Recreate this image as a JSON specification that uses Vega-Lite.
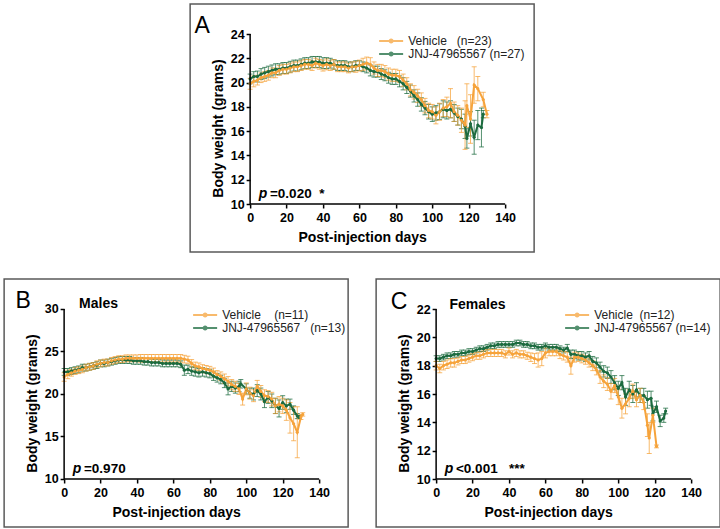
{
"$schema": "https://vega.github.io/schema/vega-lite/v6.json",
"padding": {"left": 3, "top": 3, "right": 0, "bottom": 0},
"background": "white",
"spacing": 25,
"center": true,
"resolve": {"scale": {"color": "independent"}},
"config": {
  "font": "Liberation Sans",
  "view": {"stroke": "#5a5a5a", "strokeWidth": 1.5},
  "axis": {"grid": false, "domain": false, "tickColor": "#000", "tickWidth": 1.5, "tickSize": 4, "labelFont": "Liberation Sans", "labelFontWeight": "bold", "labelFontSize": 12.5, "labelColor": "#000", "titleFont": "Liberation Sans", "titleFontWeight": "bold", "titleFontSize": 14, "titleColor": "#000", "labelFlush": false, "labelOverlap": false},
  "legend": {"symbolType": "M-2.4,0L2.4,0M-0.3,0A0.3,0.3,0,1,0,0.3,0A0.3,0.3,0,1,0,-0.3,0Z", "symbolSize": 100, "symbolStrokeWidth": 2, "labelFontSize": 12, "labelFont": "Liberation Sans", "labelColor": "#222", "rowPadding": 1, "labelOffset": 11, "padding": 0},
  "text": {"font": "Liberation Sans", "color": "#000"}
},
"datasets": {
"A": [
{"d":0,"g":"JNJ-47965567","w":20.3,"e":0.4},{"d":2,"g":"JNJ-47965567","w":20.5,"e":0.4},{"d":4,"g":"JNJ-47965567","w":20.5,"e":0.45},{"d":6,"g":"JNJ-47965567","w":20.7,"e":0.45},{"d":8,"g":"JNJ-47965567","w":20.8,"e":0.45},{"d":10,"g":"JNJ-47965567","w":20.9,"e":0.45},{"d":12,"g":"JNJ-47965567","w":21.0,"e":0.45},{"d":14,"g":"JNJ-47965567","w":21.1,"e":0.45},{"d":16,"g":"JNJ-47965567","w":21.1,"e":0.45},{"d":18,"g":"JNJ-47965567","w":21.2,"e":0.45},{"d":20,"g":"JNJ-47965567","w":21.2,"e":0.45},{"d":22,"g":"JNJ-47965567","w":21.3,"e":0.45},{"d":24,"g":"JNJ-47965567","w":21.4,"e":0.45},{"d":26,"g":"JNJ-47965567","w":21.4,"e":0.45},{"d":28,"g":"JNJ-47965567","w":21.5,"e":0.45},{"d":30,"g":"JNJ-47965567","w":21.6,"e":0.45},{"d":32,"g":"JNJ-47965567","w":21.6,"e":0.45},{"d":34,"g":"JNJ-47965567","w":21.7,"e":0.45},{"d":36,"g":"JNJ-47965567","w":21.7,"e":0.45},{"d":38,"g":"JNJ-47965567","w":21.7,"e":0.45},{"d":40,"g":"JNJ-47965567","w":21.6,"e":0.45},{"d":42,"g":"JNJ-47965567","w":21.6,"e":0.45},{"d":44,"g":"JNJ-47965567","w":21.6,"e":0.4},{"d":46,"g":"JNJ-47965567","w":21.5,"e":0.4},{"d":48,"g":"JNJ-47965567","w":21.4,"e":0.4},{"d":50,"g":"JNJ-47965567","w":21.4,"e":0.4},{"d":52,"g":"JNJ-47965567","w":21.4,"e":0.4},{"d":54,"g":"JNJ-47965567","w":21.3,"e":0.4},{"d":56,"g":"JNJ-47965567","w":21.3,"e":0.4},{"d":58,"g":"JNJ-47965567","w":21.4,"e":0.4},{"d":60,"g":"JNJ-47965567","w":21.4,"e":0.4},{"d":62,"g":"JNJ-47965567","w":21.3,"e":0.4},{"d":64,"g":"JNJ-47965567","w":21.2,"e":0.4},{"d":66,"g":"JNJ-47965567","w":21.0,"e":0.45},{"d":68,"g":"JNJ-47965567","w":20.9,"e":0.45},{"d":70,"g":"JNJ-47965567","w":20.9,"e":0.45},{"d":72,"g":"JNJ-47965567","w":20.7,"e":0.45},{"d":74,"g":"JNJ-47965567","w":20.6,"e":0.45},{"d":76,"g":"JNJ-47965567","w":20.4,"e":0.45},{"d":78,"g":"JNJ-47965567","w":20.3,"e":0.45},{"d":80,"g":"JNJ-47965567","w":20.3,"e":0.45},{"d":82,"g":"JNJ-47965567","w":20.1,"e":0.45},{"d":84,"g":"JNJ-47965567","w":19.9,"e":0.5},{"d":86,"g":"JNJ-47965567","w":19.6,"e":0.5},{"d":88,"g":"JNJ-47965567","w":19.3,"e":0.5},{"d":90,"g":"JNJ-47965567","w":18.9,"e":0.5},{"d":92,"g":"JNJ-47965567","w":18.6,"e":0.55},{"d":94,"g":"JNJ-47965567","w":18.2,"e":0.55},{"d":96,"g":"JNJ-47965567","w":17.9,"e":0.55},{"d":98,"g":"JNJ-47965567","w":17.6,"e":0.6},{"d":100,"g":"JNJ-47965567","w":17.4,"e":0.6},{"d":102,"g":"JNJ-47965567","w":17.5,"e":0.6},{"d":104,"g":"JNJ-47965567","w":17.6,"e":0.65},{"d":106,"g":"JNJ-47965567","w":17.8,"e":0.7},{"d":108,"g":"JNJ-47965567","w":17.7,"e":0.7},{"d":110,"g":"JNJ-47965567","w":17.8,"e":0.7},{"d":112,"g":"JNJ-47965567","w":17.5,"e":0.7},{"d":114,"g":"JNJ-47965567","w":17.2,"e":0.7},{"d":116,"g":"JNJ-47965567","w":17.0,"e":0.8},{"d":118,"g":"JNJ-47965567","w":16.4,"e":1.0},{"d":119,"g":"JNJ-47965567","w":15.4,"e":0.8},{"d":121,"g":"JNJ-47965567","w":16.6,"e":1.0},{"d":123,"g":"JNJ-47965567","w":15.5,"e":1.4},{"d":125,"g":"JNJ-47965567","w":16.5,"e":1.2},{"d":127,"g":"JNJ-47965567","w":16.3,"e":1.6},{"d":128,"g":"JNJ-47965567","w":17.4,"e":0.3},
{"d":0,"g":"Vehicle","w":19.9,"e":0.45},{"d":2,"g":"Vehicle","w":20.1,"e":0.45},{"d":4,"g":"Vehicle","w":20.2,"e":0.4},{"d":6,"g":"Vehicle","w":20.4,"e":0.4},{"d":8,"g":"Vehicle","w":20.5,"e":0.4},{"d":10,"g":"Vehicle","w":20.6,"e":0.4},{"d":12,"g":"Vehicle","w":20.8,"e":0.4},{"d":14,"g":"Vehicle","w":20.8,"e":0.4},{"d":16,"g":"Vehicle","w":21.0,"e":0.4},{"d":18,"g":"Vehicle","w":21.1,"e":0.4},{"d":20,"g":"Vehicle","w":21.1,"e":0.4},{"d":22,"g":"Vehicle","w":21.2,"e":0.4},{"d":24,"g":"Vehicle","w":21.3,"e":0.4},{"d":26,"g":"Vehicle","w":21.3,"e":0.4},{"d":28,"g":"Vehicle","w":21.4,"e":0.4},{"d":30,"g":"Vehicle","w":21.5,"e":0.4},{"d":32,"g":"Vehicle","w":21.5,"e":0.4},{"d":34,"g":"Vehicle","w":21.4,"e":0.4},{"d":36,"g":"Vehicle","w":21.6,"e":0.4},{"d":38,"g":"Vehicle","w":21.5,"e":0.4},{"d":40,"g":"Vehicle","w":21.4,"e":0.45},{"d":42,"g":"Vehicle","w":21.5,"e":0.45},{"d":44,"g":"Vehicle","w":21.4,"e":0.4},{"d":46,"g":"Vehicle","w":21.5,"e":0.4},{"d":48,"g":"Vehicle","w":21.3,"e":0.4},{"d":50,"g":"Vehicle","w":21.3,"e":0.4},{"d":52,"g":"Vehicle","w":21.3,"e":0.4},{"d":54,"g":"Vehicle","w":21.2,"e":0.4},{"d":56,"g":"Vehicle","w":21.3,"e":0.4},{"d":58,"g":"Vehicle","w":21.3,"e":0.45},{"d":60,"g":"Vehicle","w":21.4,"e":0.45},{"d":62,"g":"Vehicle","w":21.5,"e":0.5},{"d":64,"g":"Vehicle","w":21.6,"e":0.5},{"d":66,"g":"Vehicle","w":21.5,"e":0.55},{"d":68,"g":"Vehicle","w":21.2,"e":0.5},{"d":70,"g":"Vehicle","w":21.0,"e":0.5},{"d":72,"g":"Vehicle","w":21.0,"e":0.5},{"d":74,"g":"Vehicle","w":20.9,"e":0.5},{"d":76,"g":"Vehicle","w":20.7,"e":0.5},{"d":78,"g":"Vehicle","w":20.6,"e":0.5},{"d":80,"g":"Vehicle","w":20.6,"e":0.5},{"d":82,"g":"Vehicle","w":20.5,"e":0.5},{"d":84,"g":"Vehicle","w":20.2,"e":0.5},{"d":86,"g":"Vehicle","w":19.9,"e":0.5},{"d":88,"g":"Vehicle","w":19.4,"e":0.5},{"d":90,"g":"Vehicle","w":19.2,"e":0.55},{"d":92,"g":"Vehicle","w":18.9,"e":0.55},{"d":94,"g":"Vehicle","w":18.6,"e":0.55},{"d":96,"g":"Vehicle","w":18.1,"e":0.6},{"d":98,"g":"Vehicle","w":17.7,"e":0.6},{"d":100,"g":"Vehicle","w":17.6,"e":0.6},{"d":102,"g":"Vehicle","w":17.3,"e":0.7},{"d":104,"g":"Vehicle","w":17.6,"e":0.7},{"d":106,"g":"Vehicle","w":17.9,"e":0.7},{"d":108,"g":"Vehicle","w":18.0,"e":0.8},{"d":110,"g":"Vehicle","w":18.3,"e":1.2},{"d":112,"g":"Vehicle","w":17.6,"e":0.8},{"d":114,"g":"Vehicle","w":17.3,"e":0.8},{"d":116,"g":"Vehicle","w":16.9,"e":1.0},{"d":118,"g":"Vehicle","w":16.5,"e":2.0},{"d":119,"g":"Vehicle","w":18.1,"e":1.8},{"d":121,"g":"Vehicle","w":17.0,"e":2.0},{"d":123,"g":"Vehicle","w":19.8,"e":1.5},{"d":125,"g":"Vehicle","w":19.5,"e":1.0},{"d":128,"g":"Vehicle","w":18.6,"e":0.6},{"d":130,"g":"Vehicle","w":17.4,"e":0.3}
],
"B": [
{"d":0,"g":"JNJ-47965567","w":22.6,"e":0.4},{"d":2,"g":"JNJ-47965567","w":22.6,"e":0.4},{"d":4,"g":"JNJ-47965567","w":22.7,"e":0.4},{"d":6,"g":"JNJ-47965567","w":22.8,"e":0.4},{"d":8,"g":"JNJ-47965567","w":22.9,"e":0.4},{"d":10,"g":"JNJ-47965567","w":23.1,"e":0.4},{"d":12,"g":"JNJ-47965567","w":23.1,"e":0.4},{"d":14,"g":"JNJ-47965567","w":23.2,"e":0.4},{"d":16,"g":"JNJ-47965567","w":23.3,"e":0.4},{"d":18,"g":"JNJ-47965567","w":23.4,"e":0.4},{"d":20,"g":"JNJ-47965567","w":23.6,"e":0.4},{"d":22,"g":"JNJ-47965567","w":23.6,"e":0.4},{"d":24,"g":"JNJ-47965567","w":23.7,"e":0.4},{"d":26,"g":"JNJ-47965567","w":23.8,"e":0.4},{"d":28,"g":"JNJ-47965567","w":23.9,"e":0.4},{"d":30,"g":"JNJ-47965567","w":24.0,"e":0.4},{"d":32,"g":"JNJ-47965567","w":24.0,"e":0.4},{"d":34,"g":"JNJ-47965567","w":24.0,"e":0.4},{"d":36,"g":"JNJ-47965567","w":24.0,"e":0.4},{"d":38,"g":"JNJ-47965567","w":23.9,"e":0.4},{"d":40,"g":"JNJ-47965567","w":23.9,"e":0.4},{"d":42,"g":"JNJ-47965567","w":23.9,"e":0.4},{"d":44,"g":"JNJ-47965567","w":23.8,"e":0.4},{"d":46,"g":"JNJ-47965567","w":23.8,"e":0.4},{"d":48,"g":"JNJ-47965567","w":23.7,"e":0.4},{"d":50,"g":"JNJ-47965567","w":23.7,"e":0.4},{"d":52,"g":"JNJ-47965567","w":23.7,"e":0.4},{"d":54,"g":"JNJ-47965567","w":23.6,"e":0.4},{"d":56,"g":"JNJ-47965567","w":23.6,"e":0.4},{"d":58,"g":"JNJ-47965567","w":23.6,"e":0.4},{"d":60,"g":"JNJ-47965567","w":23.6,"e":0.4},{"d":62,"g":"JNJ-47965567","w":23.6,"e":0.4},{"d":64,"g":"JNJ-47965567","w":23.5,"e":0.4},{"d":66,"g":"JNJ-47965567","w":22.8,"e":0.6},{"d":68,"g":"JNJ-47965567","w":22.9,"e":0.5},{"d":70,"g":"JNJ-47965567","w":22.7,"e":0.5},{"d":72,"g":"JNJ-47965567","w":22.6,"e":0.5},{"d":74,"g":"JNJ-47965567","w":22.5,"e":0.5},{"d":76,"g":"JNJ-47965567","w":22.6,"e":0.5},{"d":78,"g":"JNJ-47965567","w":22.5,"e":0.5},{"d":80,"g":"JNJ-47965567","w":22.4,"e":0.5},{"d":82,"g":"JNJ-47965567","w":22.1,"e":0.5},{"d":84,"g":"JNJ-47965567","w":21.9,"e":0.5},{"d":86,"g":"JNJ-47965567","w":21.7,"e":0.5},{"d":88,"g":"JNJ-47965567","w":21.3,"e":0.55},{"d":90,"g":"JNJ-47965567","w":20.6,"e":0.7},{"d":92,"g":"JNJ-47965567","w":20.9,"e":0.6},{"d":94,"g":"JNJ-47965567","w":20.7,"e":0.6},{"d":96,"g":"JNJ-47965567","w":20.9,"e":0.6},{"d":97,"g":"JNJ-47965567","w":21.2,"e":0.5},{"d":100,"g":"JNJ-47965567","w":20.6,"e":0.6},{"d":102,"g":"JNJ-47965567","w":20.1,"e":0.6},{"d":104,"g":"JNJ-47965567","w":20.0,"e":0.7},{"d":106,"g":"JNJ-47965567","w":20.4,"e":0.7},{"d":108,"g":"JNJ-47965567","w":20.0,"e":0.7},{"d":110,"g":"JNJ-47965567","w":19.1,"e":0.7},{"d":112,"g":"JNJ-47965567","w":19.6,"e":0.7},{"d":114,"g":"JNJ-47965567","w":19.2,"e":0.8},{"d":116,"g":"JNJ-47965567","w":18.6,"e":0.9},{"d":118,"g":"JNJ-47965567","w":18.3,"e":1.0},{"d":120,"g":"JNJ-47965567","w":19.0,"e":0.8},{"d":122,"g":"JNJ-47965567","w":18.6,"e":0.8},{"d":124,"g":"JNJ-47965567","w":18.8,"e":0.6},{"d":126,"g":"JNJ-47965567","w":18.1,"e":0.5},{"d":128,"g":"JNJ-47965567","w":17.4,"e":0.3},{"d":129,"g":"JNJ-47965567","w":17.3,"e":0.2},
{"d":0,"g":"Vehicle","w":22.0,"e":0.5},{"d":2,"g":"Vehicle","w":22.3,"e":0.5},{"d":4,"g":"Vehicle","w":22.5,"e":0.4},{"d":6,"g":"Vehicle","w":22.7,"e":0.4},{"d":8,"g":"Vehicle","w":22.8,"e":0.4},{"d":10,"g":"Vehicle","w":22.9,"e":0.4},{"d":12,"g":"Vehicle","w":23.1,"e":0.4},{"d":14,"g":"Vehicle","w":23.2,"e":0.4},{"d":16,"g":"Vehicle","w":23.3,"e":0.4},{"d":18,"g":"Vehicle","w":23.5,"e":0.4},{"d":20,"g":"Vehicle","w":23.6,"e":0.4},{"d":22,"g":"Vehicle","w":23.7,"e":0.4},{"d":24,"g":"Vehicle","w":23.7,"e":0.4},{"d":26,"g":"Vehicle","w":23.9,"e":0.4},{"d":28,"g":"Vehicle","w":24.0,"e":0.4},{"d":30,"g":"Vehicle","w":24.1,"e":0.4},{"d":32,"g":"Vehicle","w":24.1,"e":0.4},{"d":34,"g":"Vehicle","w":24.2,"e":0.4},{"d":36,"g":"Vehicle","w":24.2,"e":0.4},{"d":38,"g":"Vehicle","w":24.2,"e":0.4},{"d":40,"g":"Vehicle","w":24.2,"e":0.4},{"d":42,"g":"Vehicle","w":24.2,"e":0.45},{"d":44,"g":"Vehicle","w":24.2,"e":0.45},{"d":46,"g":"Vehicle","w":24.2,"e":0.45},{"d":48,"g":"Vehicle","w":24.2,"e":0.45},{"d":50,"g":"Vehicle","w":24.2,"e":0.45},{"d":52,"g":"Vehicle","w":24.2,"e":0.45},{"d":54,"g":"Vehicle","w":24.2,"e":0.45},{"d":56,"g":"Vehicle","w":24.2,"e":0.45},{"d":58,"g":"Vehicle","w":24.2,"e":0.45},{"d":60,"g":"Vehicle","w":24.2,"e":0.45},{"d":62,"g":"Vehicle","w":24.2,"e":0.45},{"d":64,"g":"Vehicle","w":24.2,"e":0.45},{"d":66,"g":"Vehicle","w":24.1,"e":0.45},{"d":68,"g":"Vehicle","w":24.0,"e":0.45},{"d":70,"g":"Vehicle","w":23.6,"e":0.45},{"d":72,"g":"Vehicle","w":23.3,"e":0.45},{"d":74,"g":"Vehicle","w":23.2,"e":0.45},{"d":76,"g":"Vehicle","w":23.0,"e":0.45},{"d":78,"g":"Vehicle","w":22.9,"e":0.45},{"d":80,"g":"Vehicle","w":22.8,"e":0.45},{"d":82,"g":"Vehicle","w":22.6,"e":0.45},{"d":84,"g":"Vehicle","w":22.3,"e":0.45},{"d":86,"g":"Vehicle","w":22.1,"e":0.5},{"d":88,"g":"Vehicle","w":21.8,"e":0.55},{"d":90,"g":"Vehicle","w":21.5,"e":0.55},{"d":92,"g":"Vehicle","w":21.1,"e":0.6},{"d":94,"g":"Vehicle","w":20.9,"e":0.6},{"d":96,"g":"Vehicle","w":20.6,"e":0.65},{"d":98,"g":"Vehicle","w":19.4,"e":0.7},{"d":100,"g":"Vehicle","w":20.6,"e":0.7},{"d":102,"g":"Vehicle","w":20.1,"e":0.7},{"d":104,"g":"Vehicle","w":19.8,"e":0.7},{"d":106,"g":"Vehicle","w":20.9,"e":0.7},{"d":108,"g":"Vehicle","w":20.3,"e":0.7},{"d":110,"g":"Vehicle","w":19.8,"e":0.7},{"d":112,"g":"Vehicle","w":19.7,"e":0.7},{"d":114,"g":"Vehicle","w":19.4,"e":0.8},{"d":116,"g":"Vehicle","w":18.6,"e":0.9},{"d":118,"g":"Vehicle","w":18.8,"e":0.9},{"d":120,"g":"Vehicle","w":18.6,"e":0.9},{"d":122,"g":"Vehicle","w":18.1,"e":1.2},{"d":124,"g":"Vehicle","w":17.2,"e":1.8},{"d":126,"g":"Vehicle","w":16.5,"e":2.0},{"d":128,"g":"Vehicle","w":15.5,"e":3.0},{"d":130,"g":"Vehicle","w":17.3,"e":0.3},{"d":131,"g":"Vehicle","w":17.6,"e":0.2}
],
"C": [
{"d":0,"g":"JNJ-47965567","w":18.5,"e":0.2},{"d":2,"g":"JNJ-47965567","w":18.5,"e":0.2},{"d":4,"g":"JNJ-47965567","w":18.6,"e":0.2},{"d":6,"g":"JNJ-47965567","w":18.7,"e":0.2},{"d":8,"g":"JNJ-47965567","w":18.7,"e":0.2},{"d":10,"g":"JNJ-47965567","w":18.8,"e":0.2},{"d":12,"g":"JNJ-47965567","w":18.8,"e":0.2},{"d":14,"g":"JNJ-47965567","w":18.9,"e":0.2},{"d":16,"g":"JNJ-47965567","w":18.9,"e":0.2},{"d":18,"g":"JNJ-47965567","w":19.0,"e":0.2},{"d":20,"g":"JNJ-47965567","w":19.0,"e":0.2},{"d":22,"g":"JNJ-47965567","w":19.1,"e":0.2},{"d":24,"g":"JNJ-47965567","w":19.2,"e":0.2},{"d":26,"g":"JNJ-47965567","w":19.2,"e":0.2},{"d":28,"g":"JNJ-47965567","w":19.3,"e":0.2},{"d":30,"g":"JNJ-47965567","w":19.4,"e":0.2},{"d":32,"g":"JNJ-47965567","w":19.4,"e":0.2},{"d":34,"g":"JNJ-47965567","w":19.5,"e":0.2},{"d":36,"g":"JNJ-47965567","w":19.5,"e":0.2},{"d":38,"g":"JNJ-47965567","w":19.5,"e":0.2},{"d":40,"g":"JNJ-47965567","w":19.5,"e":0.2},{"d":42,"g":"JNJ-47965567","w":19.5,"e":0.2},{"d":44,"g":"JNJ-47965567","w":19.6,"e":0.2},{"d":46,"g":"JNJ-47965567","w":19.6,"e":0.2},{"d":48,"g":"JNJ-47965567","w":19.5,"e":0.2},{"d":50,"g":"JNJ-47965567","w":19.5,"e":0.2},{"d":52,"g":"JNJ-47965567","w":19.4,"e":0.2},{"d":54,"g":"JNJ-47965567","w":19.4,"e":0.2},{"d":56,"g":"JNJ-47965567","w":19.3,"e":0.2},{"d":58,"g":"JNJ-47965567","w":19.3,"e":0.2},{"d":60,"g":"JNJ-47965567","w":19.4,"e":0.2},{"d":62,"g":"JNJ-47965567","w":19.3,"e":0.2},{"d":64,"g":"JNJ-47965567","w":19.3,"e":0.2},{"d":66,"g":"JNJ-47965567","w":19.3,"e":0.2},{"d":68,"g":"JNJ-47965567","w":19.2,"e":0.2},{"d":70,"g":"JNJ-47965567","w":19.1,"e":0.2},{"d":72,"g":"JNJ-47965567","w":19.25,"e":0.25},{"d":74,"g":"JNJ-47965567","w":18.8,"e":0.3},{"d":76,"g":"JNJ-47965567","w":18.8,"e":0.3},{"d":78,"g":"JNJ-47965567","w":18.7,"e":0.3},{"d":80,"g":"JNJ-47965567","w":18.7,"e":0.3},{"d":82,"g":"JNJ-47965567","w":18.6,"e":0.3},{"d":84,"g":"JNJ-47965567","w":18.7,"e":0.3},{"d":86,"g":"JNJ-47965567","w":18.3,"e":0.35},{"d":88,"g":"JNJ-47965567","w":18.2,"e":0.35},{"d":90,"g":"JNJ-47965567","w":17.9,"e":0.35},{"d":92,"g":"JNJ-47965567","w":17.6,"e":0.4},{"d":94,"g":"JNJ-47965567","w":17.5,"e":0.4},{"d":96,"g":"JNJ-47965567","w":17.2,"e":0.45},{"d":98,"g":"JNJ-47965567","w":16.8,"e":0.5},{"d":100,"g":"JNJ-47965567","w":16.4,"e":0.5},{"d":102,"g":"JNJ-47965567","w":16.8,"e":0.5},{"d":104,"g":"JNJ-47965567","w":15.8,"e":0.6},{"d":106,"g":"JNJ-47965567","w":16.3,"e":0.6},{"d":108,"g":"JNJ-47965567","w":16.0,"e":0.6},{"d":110,"g":"JNJ-47965567","w":16.3,"e":0.5},{"d":112,"g":"JNJ-47965567","w":15.9,"e":0.5},{"d":114,"g":"JNJ-47965567","w":15.9,"e":0.5},{"d":116,"g":"JNJ-47965567","w":15.6,"e":0.6},{"d":118,"g":"JNJ-47965567","w":15.7,"e":0.5},{"d":119,"g":"JNJ-47965567","w":14.6,"e":0.5},{"d":121,"g":"JNJ-47965567","w":15.1,"e":0.4},{"d":123,"g":"JNJ-47965567","w":14.1,"e":0.4},{"d":125,"g":"JNJ-47965567","w":14.3,"e":0.3},{"d":126,"g":"JNJ-47965567","w":14.8,"e":0.2},
{"d":0,"g":"Vehicle","w":18.0,"e":0.3},{"d":2,"g":"Vehicle","w":17.8,"e":0.3},{"d":4,"g":"Vehicle","w":18.0,"e":0.3},{"d":6,"g":"Vehicle","w":18.1,"e":0.3},{"d":8,"g":"Vehicle","w":18.2,"e":0.3},{"d":10,"g":"Vehicle","w":18.2,"e":0.3},{"d":12,"g":"Vehicle","w":18.3,"e":0.25},{"d":14,"g":"Vehicle","w":18.4,"e":0.25},{"d":16,"g":"Vehicle","w":18.4,"e":0.25},{"d":18,"g":"Vehicle","w":18.5,"e":0.25},{"d":20,"g":"Vehicle","w":18.6,"e":0.25},{"d":22,"g":"Vehicle","w":18.7,"e":0.25},{"d":24,"g":"Vehicle","w":18.7,"e":0.25},{"d":26,"g":"Vehicle","w":18.8,"e":0.25},{"d":28,"g":"Vehicle","w":18.9,"e":0.25},{"d":30,"g":"Vehicle","w":18.9,"e":0.25},{"d":32,"g":"Vehicle","w":18.9,"e":0.25},{"d":34,"g":"Vehicle","w":18.9,"e":0.25},{"d":36,"g":"Vehicle","w":18.9,"e":0.25},{"d":38,"g":"Vehicle","w":18.8,"e":0.25},{"d":40,"g":"Vehicle","w":19.0,"e":0.25},{"d":42,"g":"Vehicle","w":18.8,"e":0.25},{"d":44,"g":"Vehicle","w":18.9,"e":0.25},{"d":46,"g":"Vehicle","w":18.8,"e":0.25},{"d":48,"g":"Vehicle","w":18.8,"e":0.25},{"d":50,"g":"Vehicle","w":18.7,"e":0.25},{"d":52,"g":"Vehicle","w":18.6,"e":0.3},{"d":54,"g":"Vehicle","w":18.5,"e":0.35},{"d":56,"g":"Vehicle","w":18.4,"e":0.5},{"d":58,"g":"Vehicle","w":18.5,"e":0.5},{"d":60,"g":"Vehicle","w":18.9,"e":0.35},{"d":62,"g":"Vehicle","w":19.0,"e":0.3},{"d":64,"g":"Vehicle","w":19.0,"e":0.3},{"d":66,"g":"Vehicle","w":19.0,"e":0.3},{"d":68,"g":"Vehicle","w":18.8,"e":0.3},{"d":70,"g":"Vehicle","w":18.7,"e":0.3},{"d":72,"g":"Vehicle","w":18.6,"e":0.35},{"d":74,"g":"Vehicle","w":18.0,"e":0.6},{"d":76,"g":"Vehicle","w":18.6,"e":0.35},{"d":78,"g":"Vehicle","w":18.6,"e":0.3},{"d":80,"g":"Vehicle","w":18.5,"e":0.3},{"d":82,"g":"Vehicle","w":18.4,"e":0.3},{"d":84,"g":"Vehicle","w":18.2,"e":0.3},{"d":86,"g":"Vehicle","w":18.0,"e":0.35},{"d":88,"g":"Vehicle","w":17.7,"e":0.35},{"d":90,"g":"Vehicle","w":17.2,"e":0.45},{"d":92,"g":"Vehicle","w":16.9,"e":0.45},{"d":94,"g":"Vehicle","w":16.7,"e":0.45},{"d":96,"g":"Vehicle","w":16.2,"e":0.55},{"d":98,"g":"Vehicle","w":16.6,"e":0.5},{"d":100,"g":"Vehicle","w":15.8,"e":0.55},{"d":102,"g":"Vehicle","w":15.0,"e":0.7},{"d":104,"g":"Vehicle","w":15.3,"e":0.7},{"d":106,"g":"Vehicle","w":15.7,"e":0.6},{"d":108,"g":"Vehicle","w":16.2,"e":0.5},{"d":110,"g":"Vehicle","w":15.6,"e":0.5},{"d":112,"g":"Vehicle","w":15.9,"e":0.5},{"d":114,"g":"Vehicle","w":15.4,"e":0.5},{"d":116,"g":"Vehicle","w":13.8,"e":0.8},{"d":117,"g":"Vehicle","w":12.9,"e":1.1},{"d":119,"g":"Vehicle","w":14.5,"e":0.5},{"d":121,"g":"Vehicle","w":12.3,"e":0.1}
]
},
"vconcat": [
{
  "width": 344, "height": 248,
  "data": {"name": "A"},
  "layer": [
    {"mark": {"type": "errorbar", "ticks": true, "size": 5, "thickness": 1, "opacity": 0.75},
     "encoding": {
       "x": {"field": "d", "type": "quantitative", "scale": {"domain": [-32.94, 155.92], "nice": false, "zero": false}, "axis": {"title": "Post-injection days", "values": [0,20,40,60,80,100,120,140], "tickCount": 30, "format": "d", "offset": -48, "labelPadding": 3, "titlePadding": 7}},
       "y": {"field": "w", "type": "quantitative", "scale": {"domain": [6.047, 26.471], "nice": false, "zero": false}, "axis": {"title": "Body weight (grams)", "values": [10,12,14,16,18,20,22,24], "tickCount": 30, "format": "d", "offset": -60, "labelPadding": 2, "titlePadding": 5}},
       "yError": {"field": "e"},
       "color": {"field": "g", "type": "nominal", "scale": {"domain": ["Vehicle", "JNJ-47965567"], "range": ["#F6A33B", "#1C6B3F"]}, "legend": {"title": null, "orient": "none", "legendX": 195, "legendY": 31, "labelExpr": "datum.label == 'Vehicle' ? 'Vehicle\u00a0\u00a0\u00a0(n=23)' : 'JNJ-47965567 (n=27)'"}}
     }},
    {"mark": {"type": "line", "strokeWidth": 2, "point": {"filled": true, "size": 10}},
     "encoding": {"x": {"field": "d", "type": "quantitative"}, "y": {"field": "w", "type": "quantitative"}, "color": {"field": "g", "type": "nominal"}}},
    {"data": {"values": [{}]}, "mark": {"type": "rule", "color": "#000", "strokeWidth": 1.5}, "encoding": {"x": {"datum": 0}, "x2": {"datum": 140}, "y": {"datum": 10}}},
    {"data": {"values": [{}]}, "mark": {"type": "rule", "color": "#000", "strokeWidth": 1.5}, "encoding": {"x": {"datum": 0}, "y": {"datum": 10}, "y2": {"datum": 24}}},
    {"data": {"values": [{}]}, "mark": {"type": "text", "text": "A", "fontSize": 23, "align": "left", "baseline": "middle"}, "encoding": {"x": {"datum": -30.5}, "y": {"datum": 24.64}}},
    {"data": {"values": [{}]}, "mark": {"type": "text", "text": "p", "fontSize": 14, "fontWeight": "bold", "fontStyle": "italic", "align": "left", "baseline": "middle"}, "encoding": {"x": {"datum": 4.7}, "y": {"datum": 10.82}}},
    {"data": {"values": [{}]}, "mark": {"type": "text", "text": "=0.020\u00a0\u00a0*", "fontSize": 13.5, "fontWeight": "bold", "align": "left", "baseline": "middle"}, "encoding": {"x": {"datum": 10.9}, "y": {"datum": 10.82}}}
  ]
},
{
  "hconcat": [
  {
    "width": 344, "height": 248,
    "data": {"name": "B"},
    "layer": [
      {"mark": {"type": "errorbar", "ticks": true, "size": 5, "thickness": 1, "opacity": 0.75},
       "encoding": {
         "x": {"field": "d", "type": "quantitative", "scale": {"domain": [-32.94, 155.92], "nice": false, "zero": false}, "axis": {"title": "Post-injection days", "values": [0,20,40,60,80,100,120,140], "tickCount": 30, "format": "d", "offset": -48, "labelPadding": 3, "titlePadding": 7}},
         "y": {"field": "w", "type": "quantitative", "scale": {"domain": [4.353, 33.529], "nice": false, "zero": false}, "axis": {"title": "Body weight (grams)", "values": [10,15,20,25,30], "tickCount": 30, "format": "d", "offset": -60, "labelPadding": 2, "titlePadding": 5}},
         "yError": {"field": "e"},
         "color": {"field": "g", "type": "nominal", "scale": {"domain": ["Vehicle", "JNJ-47965567"], "range": ["#F6A33B", "#1C6B3F"]}, "legend": {"title": null, "orient": "none", "legendX": 195, "legendY": 30, "labelExpr": "datum.label == 'Vehicle' ? 'Vehicle\u00a0\u00a0\u00a0\u00a0(n=11)' : 'JNJ-47965567\u00a0\u00a0\u00a0(n=13)'"}}
       }},
      {"mark": {"type": "line", "strokeWidth": 2, "point": {"filled": true, "size": 10}},
       "encoding": {"x": {"field": "d", "type": "quantitative"}, "y": {"field": "w", "type": "quantitative"}, "color": {"field": "g", "type": "nominal"}}},
      {"data": {"values": [{}]}, "mark": {"type": "rule", "color": "#000", "strokeWidth": 1.5}, "encoding": {"x": {"datum": 0}, "x2": {"datum": 140}, "y": {"datum": 10}}},
      {"data": {"values": [{}]}, "mark": {"type": "rule", "color": "#000", "strokeWidth": 1.5}, "encoding": {"x": {"datum": 0}, "y": {"datum": 10}, "y2": {"datum": 30}}},
      {"data": {"values": [{}]}, "mark": {"type": "text", "text": "B", "fontSize": 23, "align": "left", "baseline": "middle"}, "encoding": {"x": {"datum": -26.7}, "y": {"datum": 30.9}}},
      {"data": {"values": [{}]}, "mark": {"type": "text", "text": "Males", "fontSize": 14, "fontWeight": "bold", "align": "left", "baseline": "middle"}, "encoding": {"x": {"datum": 8.2}, "y": {"datum": 30.59}}},
      {"data": {"values": [{}]}, "mark": {"type": "text", "text": "p", "fontSize": 14, "fontWeight": "bold", "fontStyle": "italic", "align": "left", "baseline": "middle"}, "encoding": {"x": {"datum": 4.7}, "y": {"datum": 11.2}}},
      {"data": {"values": [{}]}, "mark": {"type": "text", "text": "=0.970", "fontSize": 13.5, "fontWeight": "bold", "align": "left", "baseline": "middle"}, "encoding": {"x": {"datum": 10.9}, "y": {"datum": 11.2}}}
    ]
  },
  {
    "width": 344, "height": 248,
    "data": {"name": "C"},
    "layer": [
      {"mark": {"type": "errorbar", "ticks": true, "size": 5, "thickness": 1, "opacity": 0.75},
       "encoding": {
         "x": {"field": "d", "type": "quantitative", "scale": {"domain": [-32.94, 155.92], "nice": false, "zero": false}, "axis": {"title": "Post-injection days", "values": [0,20,40,60,80,100,120,140], "tickCount": 30, "format": "d", "offset": -48, "labelPadding": 3, "titlePadding": 7}},
         "y": {"field": "w", "type": "quantitative", "scale": {"domain": [6.612, 24.118], "nice": false, "zero": false}, "axis": {"title": "Body weight (grams)", "values": [10,12,14,16,18,20,22], "tickCount": 30, "format": "d", "offset": -60, "labelPadding": 2, "titlePadding": 5}},
         "yError": {"field": "e"},
         "color": {"field": "g", "type": "nominal", "scale": {"domain": ["Vehicle", "JNJ-47965567"], "range": ["#F6A33B", "#1C6B3F"]}, "legend": {"title": null, "orient": "none", "legendX": 195, "legendY": 30, "labelExpr": "datum.label == 'Vehicle' ? 'Vehicle\u00a0\u00a0(n=12)' : 'JNJ-47965567 (n=14)'"}}
       }},
      {"mark": {"type": "line", "strokeWidth": 2, "point": {"filled": true, "size": 10}},
       "encoding": {"x": {"field": "d", "type": "quantitative"}, "y": {"field": "w", "type": "quantitative"}, "color": {"field": "g", "type": "nominal"}}},
      {"data": {"values": [{}]}, "mark": {"type": "rule", "color": "#000", "strokeWidth": 1.5}, "encoding": {"x": {"datum": 0}, "x2": {"datum": 140}, "y": {"datum": 10}}},
      {"data": {"values": [{}]}, "mark": {"type": "rule", "color": "#000", "strokeWidth": 1.5}, "encoding": {"x": {"datum": 0}, "y": {"datum": 10}, "y2": {"datum": 22}}},
      {"data": {"values": [{}]}, "mark": {"type": "text", "text": "C", "fontSize": 23, "align": "left", "baseline": "middle"}, "encoding": {"x": {"datum": -24.9}, "y": {"datum": 22.47}}},
      {"data": {"values": [{}]}, "mark": {"type": "text", "text": "Females", "fontSize": 14, "fontWeight": "bold", "align": "left", "baseline": "middle"}, "encoding": {"x": {"datum": 7.3}, "y": {"datum": 22.28}}},
      {"data": {"values": [{}]}, "mark": {"type": "text", "text": "p", "fontSize": 14, "fontWeight": "bold", "fontStyle": "italic", "align": "left", "baseline": "middle"}, "encoding": {"x": {"datum": 4.7}, "y": {"datum": 10.68}}},
      {"data": {"values": [{}]}, "mark": {"type": "text", "text": "<0.001\u00a0\u00a0\u00a0***", "fontSize": 13.5, "fontWeight": "bold", "align": "left", "baseline": "middle"}, "encoding": {"x": {"datum": 10.9}, "y": {"datum": 10.68}}}
    ]
  }
  ],
  "spacing": 26,
  "resolve": {"scale": {"color": "independent"}}
}
]
}
